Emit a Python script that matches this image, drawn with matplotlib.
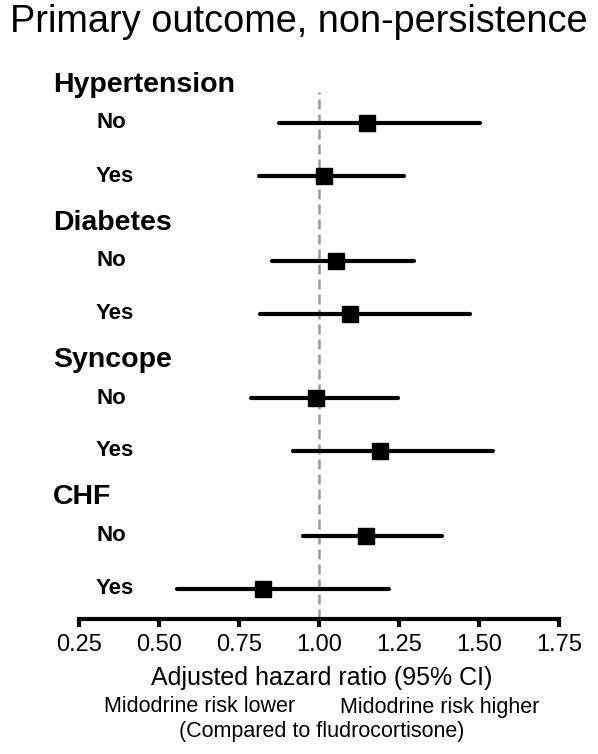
import matplotlib
matplotlib.use("Agg")
import matplotlib.pyplot as plt
from matplotlib.transforms import blended_transform_factory

plt.rcParams['font.family'] = ['Liberation Sans', 'DejaVu Sans']

# subgroup data (adjusted HR with 95% CI), No/Yes within each group
groups = ['Hypertension', 'Diabetes', 'Syncope', 'CHF']
levels = ['No', 'Yes']
hr = [1.149, 1.015, 1.054, 1.096, 0.992, 1.190, 1.146, 0.824]
ci_lo = [0.875, 0.813, 0.854, 0.817, 0.788, 0.918, 0.949, 0.556]
ci_hi = [1.502, 1.264, 1.298, 1.470, 1.246, 1.542, 1.383, 1.220]
xticks = [0.25, 0.50, 0.75, 1.00, 1.25, 1.50, 1.75]

W, H = 598, 754
fig = plt.figure(figsize=(W / 100, H / 100), dpi=100)
ax = fig.add_axes([78.7 / W, 1 - 619 / H, 480.6 / W, (619 - 92) / H])

# row layout (vertical units ~ pixels from top)
first_row, group_step, level_step, header_off = 123, 137.5, 53, -38

ax.axvline(1.0, color='#999999', lw=1.8, dashes=(4, 2), zorder=1)

tr = blended_transform_factory(fig.transFigure, ax.transData)
k = 0
for g, name in enumerate(groups):
    y0 = first_row + group_step * g
    ax.text(53 / W, y0 + header_off, name, transform=tr, fontsize=20.5,
            fontweight='bold', va='center', ha='left')
    for j, lev in enumerate(levels):
        y = y0 + level_step * j
        ax.plot([ci_lo[k], ci_hi[k]], [y, y], color='black', lw=3,
                solid_capstyle='round', zorder=2)
        ax.plot(hr[k], y, marker='s', ms=11.5, color='black', zorder=3)
        ax.text(96 / W, y, lev, transform=tr, fontsize=16,
                fontweight='bold', va='center', ha='left')
        k += 1

ax.set_xlim(0.25, 1.75)
ax.set_ylim(619, 92)
ax.set_xticks(xticks)
ax.set_xticklabels(['%.2f' % t for t in xticks], fontsize=17)
ax.set_yticks([])
for s in ['left', 'top', 'right']:
    ax.spines[s].set_visible(False)
ax.spines['bottom'].set_linewidth(3)
ax.tick_params(axis='x', direction='out', length=6, width=3, pad=5)

fig.text(0.5, 1 - 22 / H, 'Primary outcome, non-persistence', fontsize=27.3,
         ha='center', va='center')
fig.text(322 / W, 1 - 678 / H, 'Adjusted hazard ratio (95% CI)', fontsize=18,
         ha='center', va='center')
fig.text(200 / W, 1 - 707 / H, 'Midodrine risk lower', fontsize=15.5,
         ha='center', va='center')
fig.text(440 / W, 1 - 707 / H, 'Midodrine risk higher', fontsize=15.5,
         ha='center', va='center')
fig.text(322 / W, 1 - 732 / H, '(Compared to fludrocortisone)', fontsize=15.5,
         ha='center', va='center')

fig.savefig('out.png', dpi=100)
